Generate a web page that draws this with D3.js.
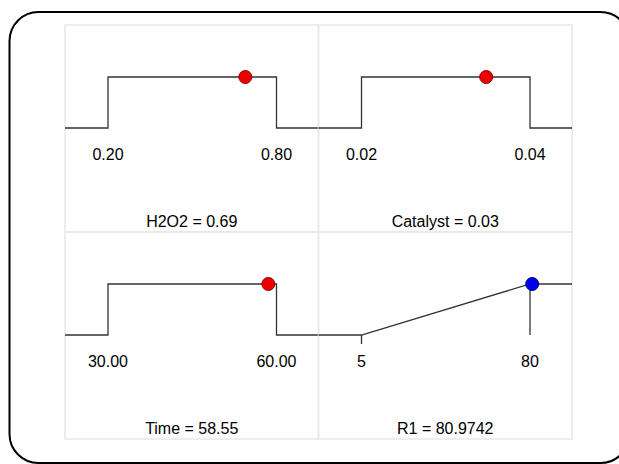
<!DOCTYPE html>
<html>
<head>
<meta charset="utf-8">
<script src="https://cdn.jsdelivr.net/npm/d3@7"></script>
<style>
  body { margin: 0; background: #fff; }
  svg { display: block; font-family: "Liberation Sans", Arial, sans-serif; }
</style>
</head>
<body>
<div id="chart"></div>
<script>
// factors (step desirability) and the response ramp
const names = ["H2O2", "Catalyst", "Time", "R1"];
const lows = [0.20, 0.02, 30, 5];
const highs = [0.80, 0.04, 60, 80];
const values = [0.689, 0.0348, 58.55, 80.9742];
const shown = ["0.69", "0.03", "58.55", "80.9742"];
const lowLabels = ["0.20", "0.02", "30.00", "5"];
const highLabels = ["0.80", "0.04", "60.00", "80"];
const kinds = ["range", "range", "range", "max"];

const W = 619, H = 464;
const svg = d3.select("#chart").append("svg")
    .attr("width", W)
    .attr("height", H);

// rounded frame (runs off the right edge)
svg.append("rect")
    .attr("x", 9.5).attr("y", 12)
    .attr("width", 620).attr("height", 451)
    .attr("rx", 29).attr("ry", 29)
    .attr("fill", "none")
    .attr("stroke", "#000")
    .attr("stroke-width", 2);

const gridLeft = 65, gridTop = 25;
const pw = 253.5, ph = 207;

names.forEach((name, i) => {
    const col = i % 2, row = Math.floor(i / 2);
    const g = svg.append("g")
        .attr("transform", `translate(${gridLeft + col * pw}, ${gridTop + row * ph})`);

    g.append("rect")
        .attr("width", pw).attr("height", ph)
        .attr("fill", "none")
        .attr("stroke", "#e8e8e8")
        .attr("stroke-width", 1.5);

    const x = d3.scaleLinear().domain([lows[i], highs[i]]).range([43, pw - 42]);
    const y = d3.scaleLinear().domain([0, 1]).range([103, 52]);

    let pts;
    if (kinds[i] === "range") {
        pts = [[0, y(0)], [x(lows[i]), y(0)], [x(lows[i]), y(1)],
               [x(highs[i]), y(1)], [x(highs[i]), y(0)], [pw, y(0)]];
    } else {
        pts = [[0, y(0)], [x(lows[i]), y(0)], [x(highs[i]), y(1)], [pw, y(1)]];
        // tick marks at the limits
        g.append("line")
            .attr("x1", x(lows[i])).attr("x2", x(lows[i]))
            .attr("y1", y(0)).attr("y2", y(0) + 9)
            .attr("stroke", "#333").attr("stroke-width", 1.3);
        g.append("line")
            .attr("x1", x(highs[i])).attr("x2", x(highs[i]))
            .attr("y1", y(1)).attr("y2", y(0))
            .attr("stroke", "#333").attr("stroke-width", 1.3);
    }

    g.append("path")
        .attr("d", d3.line()(pts))
        .attr("fill", "none")
        .attr("stroke", "#333")
        .attr("stroke-width", 1.3);

    // current setting
    const dx = Math.min(x(values[i]), pw - 8);
    g.append("circle")
        .attr("cx", dx)
        .attr("cy", y(1))
        .attr("r", 6.5)
        .attr("fill", kinds[i] === "max" ? "#0000ee" : "#ee0000")
        .attr("stroke", kinds[i] === "max" ? "#000066" : "#880000")
        .attr("stroke-width", 1);

    g.selectAll("text.tick")
        .data([[lows[i], lowLabels[i]], [highs[i], highLabels[i]]])
        .enter().append("text")
            .attr("class", "tick")
            .attr("x", d => x(d[0]))
            .attr("y", 135)
            .attr("text-anchor", "middle")
            .style("font-size", "16px")
            .attr("fill", "#000")
            .text(d => d[1]);

    g.append("text")
        .attr("x", pw / 2)
        .attr("y", 202)
        .attr("text-anchor", "middle")
        .style("font-size", "16px")
        .attr("fill", "#000")
        .text(`${name} = ${shown[i]}`);
});
</script>
</body>
</html>
